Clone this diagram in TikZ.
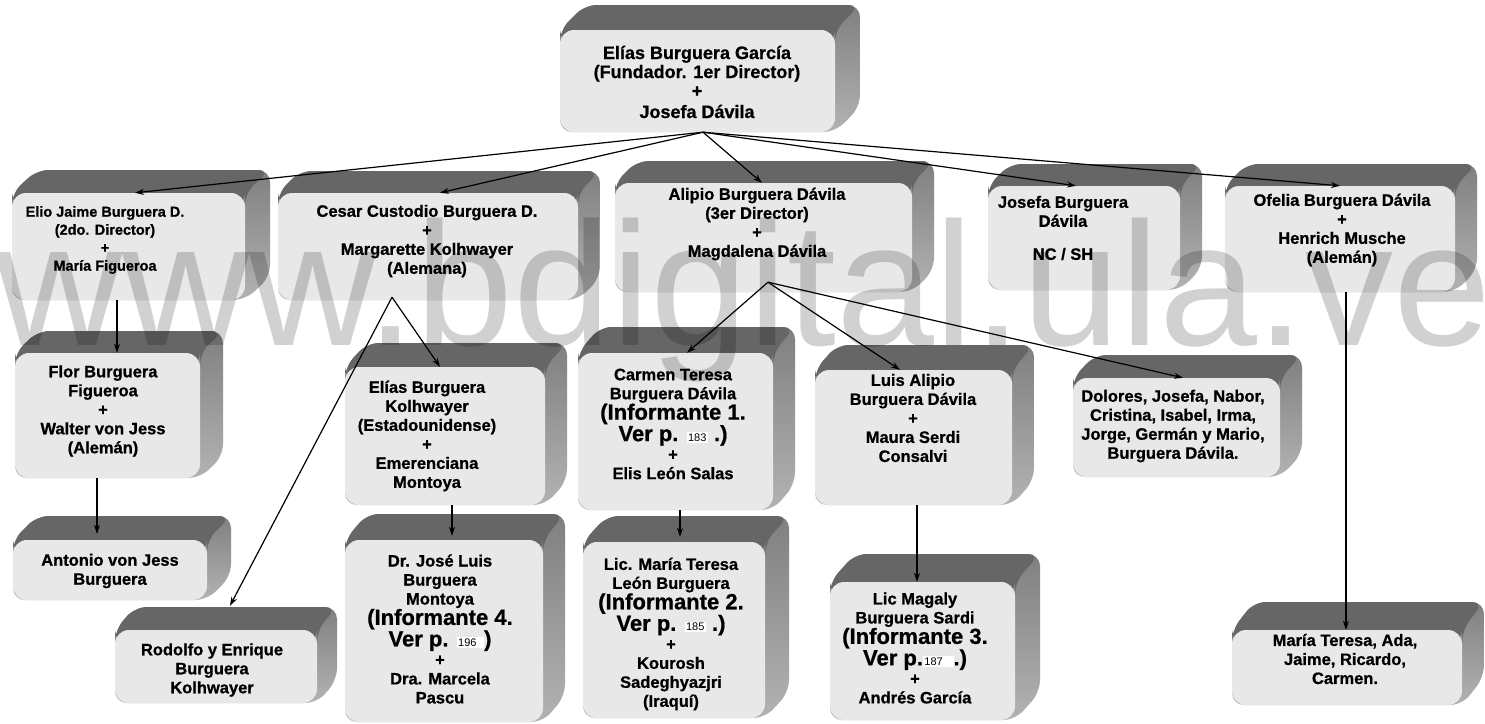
\documentclass[tikz,border=0pt]{standalone}
\usepackage{fontspec}
\setmainfont{Liberation Sans}[BoldFeatures={FakeBold=0.8}]
\usetikzlibrary{arrows.meta,calc}
\definecolor{topc}{gray}{0.4}
\definecolor{sidetop}{gray}{0.5}
\definecolor{sidebot}{gray}{0.7}
\definecolor{frontc}{gray}{0.91}
\newcommand\pgno[1]{{\setlength{\fboxsep}{1.5pt}\colorbox{white}{\fontsize{11}{12}\selectfont\mdseries #1}}}
\newcommand\infl{\fontsize{22}{24}\selectfont}
\newcommand\tdbox[7]{%
  \shade[top color=sidetop,bottom color=sidebot,rounded corners=12pt] (#2,#5) -- (#2,#3) -- ({#2+#6},{#3-#7}) -- ({#4+#6},{#3-#7}) -- ({#4+#6},{#5-#7}) -- (#4,#5) -- cycle;
  \fill[topc,rounded corners=12pt] (#2,#3+12) -- (#2,#3) -- ({#2+#6},{#3-#7}) -- ({#4+#6},{#3-#7}) -- (#4,#3) -- (#4,#3+12) -- cycle;
  \node[facebox,minimum width={(#4-#2)*1pt},minimum height={(#5-#3)*1pt}] (#1) at ({(#2+#4)/2},{(#3+#5)/2}) {};
}
\begin{document}
\begin{tikzpicture}[x=1pt,y=-1pt,
  facebox/.style={draw=none,fill=frontc,rounded corners=14pt,inner sep=0pt,shape=rectangle},
  lbl/.style={align=center,inner sep=0pt,font=\fontsize{16.5}{19}\selectfont\bfseries},
  smlbl/.style={lbl,font=\fontsize{14.5}{18}\selectfont\bfseries},
  toplbl/.style={lbl,font=\fontsize{18}{19}\selectfont\bfseries},
  arr/.style={-{Stealth[length=9pt,width=6pt]},line width=1.2pt,black}]
\fill[white] (0,0) rectangle (1485,723);
\useasboundingbox (0,0) rectangle (1485,723);
% boxes
\tdbox{top}{560}{30}{835}{132}{25}{25}
\tdbox{elio}{12}{193}{245}{300}{25}{23}
\tdbox{cesar}{278}{193}{578}{300}{22}{22}
\tdbox{alipio}{615}{183}{912}{292}{22}{22}
\tdbox{josefa}{988}{186}{1180}{290}{22}{22}
\tdbox{ofelia}{1225}{186}{1455}{292}{22}{22}
\tdbox{flor}{15}{353}{200}{478}{23}{22}
\tdbox{eliask}{345}{367}{545}{505}{22}{24}
\tdbox{carmen}{578}{353}{773}{510}{22}{26}
\tdbox{luis}{815}{370}{1012}{505}{22}{25}
\tdbox{dolores}{1073}{378}{1280}{477}{22}{23}
\tdbox{antonio}{13}{540}{207}{600}{24}{24}
\tdbox{rodolfo}{115}{630}{317}{703}{20}{23}
\tdbox{jose}{345}{540}{543}{722}{22}{26}
\tdbox{licmaria}{583}{542}{765}{718}{24}{26}
\tdbox{magaly}{830}{582}{1015}{720}{25}{28}
\tdbox{mariat}{1232}{630}{1462}{705}{22}{28}
% texts
\node[toplbl] (top-t) at (697,82) {Elías Burguera García\\(Fundador. 1er Director)\\+\\[2pt]Josefa Dávila};
\node[smlbl] (elio-t) at (105,240) {Elio Jaime Burguera D.\\(2do. Director)\\+\\María Figueroa};
\node[lbl] (cesar-t) at (427,241) {Cesar Custodio Burguera D.\\+\\Margarette Kolhwayer\\(Alemana)};
\node[lbl] (alipio-t) at (757,224) {Alipio Burguera Dávila\\(3er Director)\\+\\Magdalena Dávila};
\node[lbl] (josefa-t) at (1063,228) {Josefa Burguera\\Dávila\\[14pt]NC / SH};
\node[lbl] (ofelia-t) at (1342,230) {Ofelia Burguera Dávila\\+\\Henrich Musche\\(Alemán)};
\node[lbl] (flor-t) at (103,411) {Flor Burguera\\Figueroa\\+\\Walter von Jess\\(Alemán)};
\node[lbl] (eliask-t) at (427,436) {Elías Burguera\\Kolhwayer\\(Estadounidense)\\+\\Emerenciana\\Montoya};
\node[lbl] (carmen-t) at (673,424) {Carmen Teresa\\Burguera Dávila\\{\infl (Informante 1.}\\{\infl Ver p. \pgno{183} .)}\\+\\Elis León Salas};
\node[lbl] (luis-t) at (913,418) {Luis Alipio\\Burguera Dávila\\+\\Maura Serdi\\Consalvi};
\node[lbl] (dolores-t) at (1173,426) {Dolores, Josefa, Nabor,\\Cristina, Isabel, Irma,\\Jorge, Germán y Mario,\\Burguera Dávila.};
\node[lbl] (antonio-t) at (110,571) {Antonio von Jess\\Burguera};
\node[lbl] (rodolfo-t) at (212,670) {Rodolfo y Enrique\\Burguera\\Kolhwayer};
\node[lbl] (jose-t) at (440,629) {Dr. José Luis\\Burguera\\Montoya\\{\infl (Informante 4.}\\{\infl Ver p. \pgno{196\ \ })}\\+\\Dra. Marcela\\Pascu};
\node[lbl] (licmaria-t) at (671,634) {Lic. María Teresa\\León Burguera\\{\infl (Informante 2.}\\{\infl Ver p. \pgno{185} .)}\\+\\Kourosh\\Sadeghyazjri\\(Iraquí)};
\node[lbl] (magaly-t) at (915,648) {Lic Magaly\\Burguera Sardi\\{\infl (Informante 3.}\\{\infl Ver p.\pgno{187\ \ \ }.)}\\+\\Andrés García};
\node[lbl] (mariat-t) at (1345,659) {María Teresa, Ada,\\Jaime, Ricardo,\\Carmen.};
% connectors
\draw[arr] ([xshift=5.5pt]top.south) -- ([xshift=6.5pt]elio.north);
\draw[arr] ([xshift=5.5pt]top.south) -- ([xshift=12pt]cesar.north);
\draw[arr] ([xshift=5.5pt]top.south) -- ([xshift=-1.5pt]alipio.north);
\draw[arr] ([xshift=5.5pt]top.south) -- ([xshift=-8pt]josefa.north);
\draw[arr] ([xshift=5.5pt]top.south) -- (ofelia.north);
\draw[arr] ([xshift=-11.5pt]elio.south) -- ([xshift=9.5pt]flor.north);
\draw[arr] ([xshift=-10.5pt]flor.south) -- ([xshift=-13pt,yshift=6pt]antonio.north);
\draw[arr] ([xshift=-36pt,yshift=3pt]cesar.south) -- ([xshift=-5pt]eliask.north);
\draw[arr] ([xshift=-36pt,yshift=3pt]cesar.south) -- ([xshift=14pt,yshift=24pt]rodolfo.north);
\draw[arr] ([xshift=7pt]eliask.south) -- ([xshift=8pt,yshift=4pt]jose.north);
\draw[arr] ([xshift=4.5pt,yshift=10pt]alipio.south) -- ([xshift=11.5pt]carmen.north);
\draw[arr] ([xshift=4.5pt,yshift=10pt]alipio.south) -- ([xshift=-13.5pt]luis.north);
\draw[arr] ([xshift=4.5pt,yshift=10pt]alipio.south) -- ([xshift=6.5pt]dolores.north);
\draw[arr] ([xshift=4.5pt]carmen.south) -- ([xshift=6pt,yshift=5pt]licmaria.north);
\draw[arr] ([xshift=3.5pt]luis.south) -- ([xshift=-5.5pt]magaly.north);
\draw[arr] ([xshift=6pt]ofelia.south) -- ([xshift=-1pt]mariat.north);
% watermark
\node[anchor=base west,inner sep=0pt,text=black,opacity=0.18,font=\fontsize{176}{180}\selectfont] (wmark) at (-5,345) {www.bdigital.ula.ve};
\end{tikzpicture}
\end{document}
